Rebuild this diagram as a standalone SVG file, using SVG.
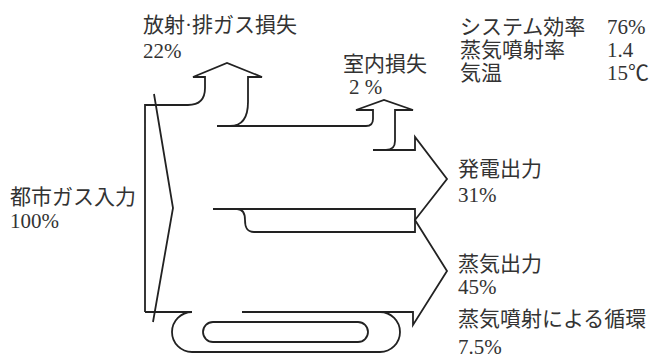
<svg xmlns="http://www.w3.org/2000/svg" width="650" height="359" viewBox="0 0 650 359">
<style>
.f{fill:none;stroke:#222;stroke-width:1.8;stroke-linejoin:miter;stroke-linecap:butt}
text{font-family:"Liberation Serif","Noto Sans CJK JP",serif;font-size:21px;fill:#333}
</style>
<rect width="650" height="359" fill="#fff"/>
<g id="connectors">
  <!-- input chevron -->
  <path class="f" d="M154,94 L173,208 L153,322"/>
  <!-- left boundary + loss arrow -->
  <path class="f" d="M145,312 V105 H188 Q205,105 205,88 V77 H193 L227,63 L262,77 H248 V102 Q248,126 230,126"/>
  <!-- room loss flow -->
  <path class="f" d="M217,126 H366 Q373,126 373,119 V110 H356 L384,100 L413,110 H395 V141 Q395,150 386,150"/>
  <!-- outer output outline -->
  <path class="f" d="M373,150 H415 V137 L447,179 L415,220 L447,271 L413,325 V312 H242"/>
  <!-- middle flow -->
  <path class="f" d="M213,209 H415 V232 H254 C246,232 245,226 245,220 C245,213 243,209 237,209"/>
  <!-- recirculation loop -->
  <path class="f" d="M145,312 H192 A20,20 0 0 0 192,352 H380 A20,20 0 0 0 380,312"/>
  <rect class="f" x="203" y="322" width="165" height="20" rx="10" ry="10"/>
</g>
<g id="loss-exhaust"><text x="143" y="32">放射·排ガス損失</text><text x="143" y="58">22%</text></g>
<g id="loss-room"><text x="343" y="71">室内損失</text><text x="349" y="94">2 %</text></g>
<g id="specs">
  <text x="460" y="34">システム効率</text><text x="607" y="34">76%</text>
  <text x="460" y="57">蒸気噴射率</text><text x="607" y="57">1.4</text>
  <text x="460" y="80">気温</text><text x="607" y="80">15℃</text>
</g>
<g id="input"><text x="10" y="204">都市ガス入力</text><text x="10" y="228">100%</text></g>
<g id="power"><text x="458" y="176">発電出力</text><text x="458" y="202">31%</text></g>
<g id="steam"><text x="458" y="271">蒸気出力</text><text x="458" y="294">45%</text></g>
<g id="recirc"><text x="458" y="326">蒸気噴射による循環</text><text x="458" y="354">7.5%</text></g>
</svg>
